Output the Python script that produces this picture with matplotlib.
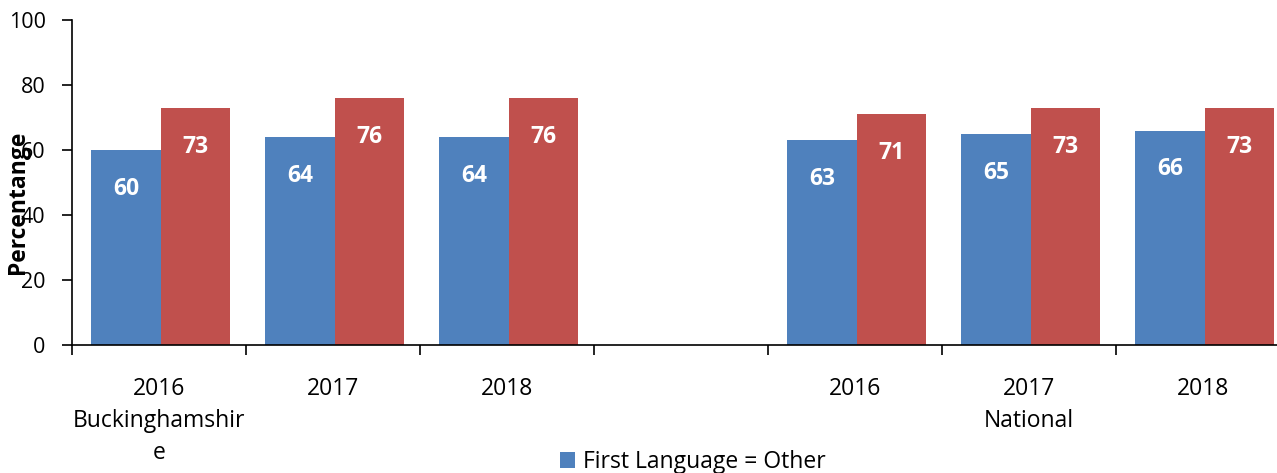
import matplotlib
matplotlib.use("Agg")
import matplotlib.pyplot as plt
import numpy as np

plt.rcParams['font.family'] = ['Open Sans', 'DejaVu Sans']

years = ["2016", "2017", "2018", "", "2016", "2017", "2018"]
group_labels = ["Buckinghamshir\ne", "National"]
group_label_pos = [0, 5]
other = [60, 64, 64, None, 63, 65, 66]
english = [73, 76, 76, None, 71, 73, 73]
series_names = ["First Language = Other", "First Language = English"]
colors = ["#4F81BD", "#C0504D"]

W, H = 1277, 473
fig = plt.figure(figsize=(W / 100, H / 100), dpi=100)
left_px, right_px, top_px, bot_px = 72, 1290, 20, 345
ax = fig.add_axes([left_px / W, (H - bot_px) / H, (right_px - left_px) / W, (bot_px - top_px) / H])

centers = np.arange(len(years)) + 0.51
bw = 0.40
handles = []
for vals, col, off, name in [(other, colors[0], -bw / 2, series_names[0]),
                             (english, colors[1], bw / 2, series_names[1])]:
    xs = [c + off for c, v in zip(centers, vals) if v is not None]
    ys = [v for v in vals if v is not None]
    bars = ax.bar(xs, ys, width=bw, color=col, label=name)
    handles.append(bars)
    for x, y in zip(xs, ys):
        ax.annotate(str(y), (x, y), xytext=(0, -28), textcoords="offset points",
                    ha="center", va="center", color="white", fontsize=16.5, fontweight="bold")

ax.set_xlim(0, len(years))
ax.set_ylim(0, 100)
ax.set_yticks(range(0, 101, 20))
ax.set_xticks(range(0, len(years) + 1))
ax.set_xticklabels([])
ax.tick_params(axis="y", labelsize=15.5, length=7, width=1.2, direction="out", pad=12)
ax.tick_params(axis="x", length=7, width=1.2, direction="out")
for s in ["top", "right"]:
    ax.spines[s].set_visible(False)
ax.spines["left"].set_linewidth(1.2)
ax.spines["bottom"].set_linewidth(1.2)

for c, y in zip(centers, years):
    if y:
        ax.text(c - 0.01, -13.6, y, ha="center", va="center", fontsize=16.5, transform=ax.transData)
for g, lbl in zip(group_label_pos, group_labels):
    ax.text(centers[g] - 0.01, -19.6, lbl, ha="center", va="top", fontsize=16.5, linespacing=1.45,
            transform=ax.transData)

fig.text(18 / W, 1 - 202 / H, "Percentange", rotation=90, ha="center", va="center",
         fontsize=16.5, fontweight="bold")

ax.legend(handles=[handles[0]], labels=[series_names[0]],
          loc="upper left", bbox_to_anchor=(560 / W, 1 - 450 / H), bbox_transform=fig.transFigure,
          frameon=False, fontsize=16.5, handlelength=0.65, handleheight=0.65, handletextpad=0.35,
          borderaxespad=0, borderpad=0)

fig.savefig("out.png", dpi=100)
